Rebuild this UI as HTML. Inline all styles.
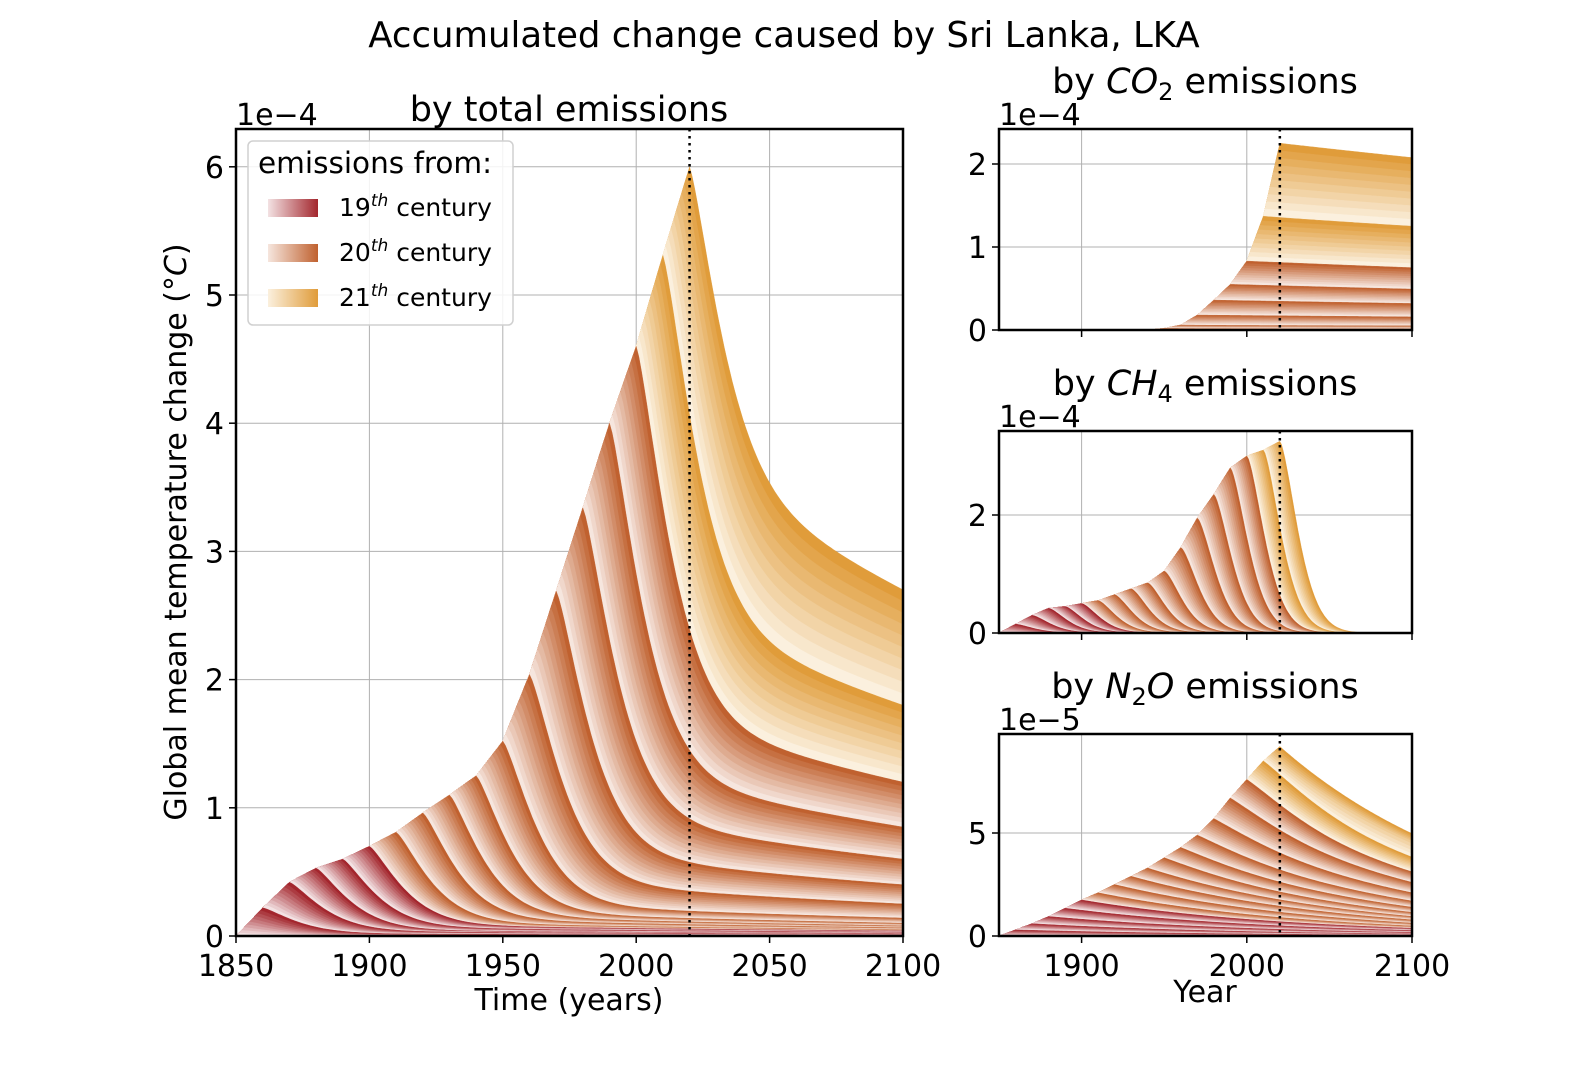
<!DOCTYPE html>
<html><head><meta charset="utf-8">
<style>
html,body{margin:0;padding:0;background:#fff;}
svg{display:block;font-family:"DejaVu Sans","Liberation Sans",sans-serif;}
</style></head>
<body>
<svg id="fig" width="1584" height="1080" viewBox="0 0 1584 1080" xmlns="http://www.w3.org/2000/svg">
<defs>
<clipPath id="clipMain"><rect x="236" y="129" width="667" height="807"/></clipPath>
<clipPath id="clipCO2"><rect x="999" y="129" width="413" height="201"/></clipPath>
<clipPath id="clipCH4"><rect x="999" y="431" width="413" height="202"/></clipPath>
<clipPath id="clipN2O"><rect x="999" y="734" width="413" height="202"/></clipPath>
<linearGradient id="g19" x1="0" x2="1"><stop offset="0" stop-color="#f3e2e3"/><stop offset="1" stop-color="#a3262d"/></linearGradient>
<linearGradient id="g20" x1="0" x2="1"><stop offset="0" stop-color="#f6e6de"/><stop offset="1" stop-color="#c0612f"/></linearGradient>
<linearGradient id="g21" x1="0" x2="1"><stop offset="0" stop-color="#fbf0de"/><stop offset="1" stop-color="#e09c3a"/></linearGradient>
</defs>
<text x="784" y="47" font-size="35.5" text-anchor="middle">Accumulated change caused by Sri Lanka, LKA</text>
<g id="main"></g>
<g id="co2"></g>
<g id="ch4"></g>
<g id="n2o"></g>
</svg>
<script>
// ---- data (decade boundaries) ----
const decades = [1850,1860,1870,1880,1890,1900,1910,1920,1930,1940,1950,1960,1970,1980,1990,2000,2010,2020];
const mainPeaks = [0,0.22,0.42,0.53,0.60,0.70,0.81,0.96,1.10,1.25,1.52,2.04,2.69,3.34,4.00,4.60,5.31,6.00];
const mainTails = [0,0.007,0.015,0.02,0.03,0.04,0.05,0.065,0.08,0.10,0.14,0.25,0.40,0.60,0.85,1.20,1.80,2.70];
const co2Peaks = [0,0,0,0,0,0,0,0,0,0,0.02,0.06,0.18,0.36,0.55,0.83,1.37,2.25];
const co2Tails = [0,0,0,0,0,0,0,0,0,0,0.015,0.05,0.16,0.33,0.50,0.78,1.25,2.10];
const ch4Peaks = [0,0.15,0.30,0.42,0.45,0.50,0.55,0.65,0.75,0.85,1.05,1.45,1.95,2.35,2.80,3.00,3.10,3.25];
const ch4Tails = [0,0,0,0,0,0,0,0,0,0,0,0,0,0,0,0,0,0];
const n2oPeaks = [0,0.3,0.6,0.95,1.35,1.75,2.1,2.5,2.9,3.3,3.8,4.3,4.9,5.7,6.7,7.6,8.5,9.2];
const n2oTails = [0,0.06,0.12,0.2,0.3,0.4,0.5,0.65,0.8,0.95,1.15,1.4,1.7,2.1,2.6,3.1,3.8,5.5];
const mainYTicks = [0,1,2,3,4,5,6];
const mainXTicks = [1850,1900,1950,2000,2050,2100];
const co2YTicks = [0,1,2];
const ch4YTicks = [0,2];
const n2oYTicks = [0,5];
const subXTicks = [1900,2000,2100];

const NS="http://www.w3.org/2000/svg";
function mk(tag,attrs,parent){const e=document.createElementNS(NS,tag);for(const k in attrs)e.setAttribute(k,attrs[k]);if(parent)parent.appendChild(e);return e;}
function interp(arr,yr){
  if(yr<=decades[0])return arr[0];
  if(yr>=decades[decades.length-1])return arr[arr.length-1];
  const i=Math.floor((yr-1850)/10);const f=(yr-decades[i])/10;
  return arr[i]*(1-f)+arr[i+1]*f;
}
function boundary(cfg,y,t){
  if(t<=y)return interp(cfg.peaks,t);
  const P=interp(cfg.peaks,y);const dt=t-y;
  let L=interp(cfg.tails,y)*Math.exp((2100-y)/cfg.tauS);
  if(L>P)L=P;
  return L*Math.exp(-dt/cfg.tauS)+(P-L)*Math.exp(-Math.pow(dt/cfg.tauF,cfg.ex));
}
function mixc(a,b,f){const pa=[1,3,5].map(i=>parseInt(a.substr(i,2),16)),pb=[1,3,5].map(i=>parseInt(b.substr(i,2),16));
  return 'rgb('+pa.map((v,i)=>Math.round(v+(pb[i]-v)*f)).join(',')+')';}
function color(y){
  const j=(y-1851)%10;const f=j/9;
  if(y<=1900)return mixc('#f3e2e3','#a3262d',f);
  if(y<=2000)return mixc('#f6e6de','#c0612f',f);
  return mixc('#fbf0de','#e09c3a',f);
}
function panel(g,cfg){
  const X=v=>cfg.x0+(v-1850)*(cfg.x1-cfg.x0)/250;
  const Y=v=>cfg.yb-(v)*cfg.ppu;
  cfg.xt.forEach(v=>{const l=mk('line',{x1:X(v),x2:X(v),y1:cfg.yt,y2:cfg.yb,stroke:'#b0b0b0','stroke-width':1},g);
    
    });
  cfg.yticks.forEach(v=>{const l=mk('line',{x1:cfg.x0,x2:cfg.x1,y1:Y(v),y2:Y(v),stroke:'#b0b0b0','stroke-width':1},g);
    
    });
  const areas=mk('g',{'clip-path':'url(#'+cfg.clip+')'},g);
  
  
  for(let y=2020;y>=1851;y--){
    let d='M'+X(1850)+','+Y(0);
    for(let t=1850;t<=2100;t+=1){d+='L'+X(t).toFixed(1)+','+Y(boundary(cfg,y,t)).toFixed(1);}
    d+='L'+X(2100)+','+Y(0)+'Z';
    const p=mk('path',{d:d,fill:color(y),stroke:color(y),'stroke-width':0.4},areas);
    
    
  }
  const dl=mk('line',{x1:X(2020),x2:X(2020),y1:cfg.yt,y2:cfg.yb,stroke:'#000','stroke-width':2.5,'stroke-dasharray':'2.5,4.5'},g);
  
  
  const fr=mk('rect',{x:cfg.x0,y:cfg.yt,width:cfg.x1-cfg.x0,height:cfg.yb-cfg.yt,fill:'none',stroke:'#000','stroke-width':2.5},g);
  
  
  cfg.xt.forEach(v=>{mk('line',{x1:X(v),x2:X(v),y1:cfg.yb,y2:cfg.yb+7,stroke:'#000','stroke-width':1.5},g);
    if(cfg.xlabels){const t=mk('text',{x:X(v),y:cfg.yb+40,'font-size':30,'text-anchor':'middle'},g);t.textContent=v;
      
      }});
  cfg.yticks.forEach(v=>{mk('line',{x1:cfg.x0-7,x2:cfg.x0,y1:Y(v),y2:Y(v),stroke:'#000','stroke-width':1.5},g);
    const t=mk('text',{x:cfg.x0-12,y:Y(v)+11,'font-size':30,'text-anchor':'end'},g);t.textContent=v;
    
    });
  const o=mk('text',{x:cfg.x0,y:cfg.yt-4,'font-size':30},g);o.textContent=cfg.off;
  
  
}
panel(document.getElementById('main'),{peaks:mainPeaks,tails:mainTails,tauS:250,tauF:16,ex:1.3,x0:236,x1:903,yt:129,yb:936,ppu:128.2,clip:'clipMain',xt:mainXTicks,yticks:mainYTicks,xlabels:true,off:'1e\u22124'});
panel(document.getElementById('co2'),{peaks:co2Peaks,tails:co2Tails,tauS:1000,tauF:12,ex:1.5,x0:999,x1:1412,yt:129,yb:330,ppu:83,clip:'clipCO2',xt:subXTicks,yticks:co2YTicks,xlabels:false,off:'1e\u22124'});
panel(document.getElementById('ch4'),{peaks:ch4Peaks,tails:ch4Tails,tauS:150,tauF:15,ex:1.5,x0:999,x1:1412,yt:431,yb:633,ppu:59,clip:'clipCH4',xt:subXTicks,yticks:ch4YTicks,xlabels:false,off:'1e\u22124'});
panel(document.getElementById('n2o'),{peaks:n2oPeaks,tails:n2oTails,tauS:130,tauF:40,ex:1.5,x0:999,x1:1412,yt:734,yb:936,ppu:20.6,clip:'clipN2O',xt:subXTicks,yticks:n2oYTicks,xlabels:true,off:'1e\u22125'});
</script>
<script>
const fig=document.getElementById('fig');
fig.insertAdjacentHTML('beforeend',`
<text x="569" y="121" font-size="35" text-anchor="middle">by total emissions</text>
<text x="569" y="1010" font-size="30" text-anchor="middle">Time (years)</text>
<text transform="translate(186,532) rotate(-90)" font-size="30" text-anchor="middle">Global mean temperature change (°<tspan font-style="italic">C</tspan>)</text>
<text x="1205" y="93" font-size="35" text-anchor="middle">by <tspan font-style="italic">CO</tspan><tspan font-size="24" dy="7">2</tspan><tspan dy="-7"> emissions</tspan></text>
<text x="1205" y="395" font-size="35" text-anchor="middle">by <tspan font-style="italic">CH</tspan><tspan font-size="24" dy="7">4</tspan><tspan dy="-7"> emissions</tspan></text>
<text x="1205" y="698" font-size="35" text-anchor="middle">by <tspan font-style="italic">N</tspan><tspan font-size="24" dy="7">2</tspan><tspan dy="-7" font-style="italic">O</tspan><tspan> emissions</tspan></text>
<text x="1205" y="1002" font-size="30" text-anchor="middle">Year</text>
<g>
<rect x="248" y="141" width="265" height="184" rx="5" fill="#fff" fill-opacity="0.85" stroke="#d0d0d0" stroke-width="1.5"/>
<text x="258" y="173" font-size="29.5">emissions from:</text>
<rect x="268" y="199" width="50" height="18" fill="url(#g19)"/>
<text x="339" y="216" font-size="25">19<tspan font-size="17" dy="-10" font-style="italic">th</tspan><tspan dy="10"> century</tspan></text>
<rect x="268" y="244" width="50" height="18" fill="url(#g20)"/>
<text x="339" y="261" font-size="25">20<tspan font-size="17" dy="-10" font-style="italic">th</tspan><tspan dy="10"> century</tspan></text>
<rect x="268" y="289" width="50" height="18" fill="url(#g21)"/>
<text x="339" y="306" font-size="25">21<tspan font-size="17" dy="-10" font-style="italic">th</tspan><tspan dy="10"> century</tspan></text>
</g>`);
</script>
</body></html>
